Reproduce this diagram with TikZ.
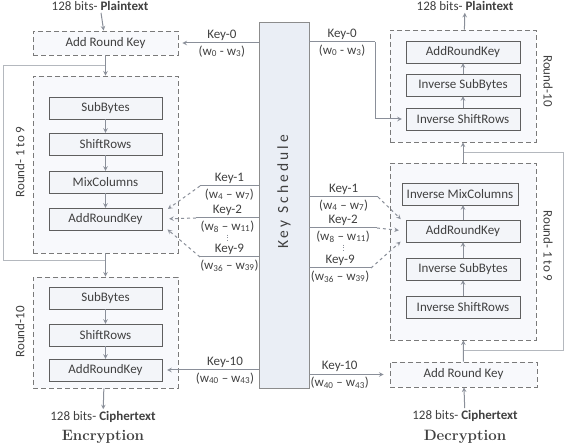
\documentclass[tikz,border=0pt]{standalone}
\usepackage{fontspec}
\setsansfont{Carlito}
\newfontfamily\kstitle[LetterSpace=20]{Carlito}
\usetikzlibrary{positioning, calc}

\definecolor{txtgray}{HTML}{404040}
\definecolor{boxgray}{HTML}{5F5F5F}
\definecolor{opfill}{HTML}{F3F5F9}
\definecolor{dashgray}{HTML}{7A7A7A}
\definecolor{roundfill}{HTML}{F8F9FC}
\definecolor{ksfill}{HTML}{EAEEF5}
\definecolor{ksborder}{HTML}{8C8C8C}
\definecolor{arrowgray}{HTML}{8A8F99}
\definecolor{loopgray}{HTML}{B4B8BE}

\begin{document}
\begin{tikzpicture}[x=1pt, y=-1pt]
	\tikzstyle{txt}=[font=\sffamily\fontsize{13}{15}\selectfont, text=txtgray, inner sep=2pt];
	\tikzstyle{opbox}=[txt, draw=boxgray, fill=opfill, minimum width=113pt, minimum height=22pt, inner sep=0pt];
	\tikzstyle{roundbox}=[txt, draw=dashgray, fill=roundfill, line width=0.9pt, dash pattern=on 5pt off 3pt, inner sep=0pt, minimum width=145pt];
	\tikzstyle{flow}=[->, >=stealth, draw=arrowgray, line width=1pt];
	\tikzstyle{keyline}=[draw=arrowgray, line width=1pt];
	\tikzstyle{keydash}=[->, >=stealth, draw=arrowgray, line width=1pt, dashed, shorten >=7pt];
	\tikzstyle{loopline}=[draw=loopgray, line width=1pt];
	\useasboundingbox (0,0) rectangle (566,446);

   % encryption side
   \node[txt] (ptL) at (100,6) {128 bits- \textbf{Plaintext}};
   \node[roundbox, minimum height=24pt] (arkL) at (105.5,43) {Add Round Key};
   \node[roundbox, minimum height=177pt] (r19L) at (105.5,164.5) {};
   \node[opbox] (sbL1) at (105.5,108) {SubBytes};
   \node[opbox] (srL1) at (105.5,144) {ShiftRows};
   \node[opbox] (mcL1) at (105.5,182) {MixColumns};
   \node[opbox] (arkL1) at (105.5,219) {AddRoundKey};
   \node[roundbox, minimum height=111pt] (r10L) at (105.5,332.5) {};
   \node[opbox] (sbL2) at (105.5,298) {SubBytes};
   \node[opbox] (srL2) at (105.5,335) {ShiftRows};
   \node[opbox] (arkL2) at (105.5,370) {AddRoundKey};
   \node[txt] (ctL) at (103,417) {128 bits- \textbf{Ciphertext}};
   \node[font=\rmfamily\bfseries\fontsize{15}{17}\selectfont, text=txtgray] (encL) at (103,437) {Encryption};
   \node[txt, rotate=90] (rn19L) at (20,162) {Round- 1 to 9};
   \node[txt, rotate=90] (rn10L) at (20,332) {Round-10};

   % key schedule
   \node[draw=ksborder, fill=ksfill, minimum width=50pt, minimum height=366pt] (ks) at (284,205) {};
   \node[rotate=90, font=\kstitle\fontsize{15.5}{18}\selectfont, text=txtgray] (kst) at (284,192) {Key Schedule};

   % decryption side
   \node[txt] (ptR) at (465,6) {128 bits- \textbf{Plaintext}};
   \node[roundbox, minimum width=146pt, minimum height=112pt] (r10R) at (463,86) {};
   \node[opbox, minimum width=114pt] (arkR1) at (463,52) {AddRoundKey};
   \node[opbox, minimum width=114pt] (isbR1) at (463,85) {Inverse SubBytes};
   \node[opbox, minimum width=114pt] (isrR1) at (463,119) {Inverse ShiftRows};
   \node[roundbox, minimum width=146pt, minimum height=177pt] (r19R) at (463,251.5) {};
   \node[opbox, minimum width=116pt] (imcR) at (460,194) {Inverse MixColumns};
   \node[opbox, minimum width=114pt] (arkR2) at (463,231) {AddRoundKey};
   \node[opbox, minimum width=114pt] (isbR2) at (463,269) {Inverse SubBytes};
   \node[opbox, minimum width=114pt] (isrR2) at (463,307) {Inverse ShiftRows};
   \node[roundbox, minimum width=147pt, minimum height=25pt] (arkR) at (463.5,374.5) {Add Round Key};
   \node[txt] (ctR) at (465,416) {128 bits- \textbf{Ciphertext}};
   \node[font=\rmfamily\bfseries\fontsize{15}{17}\selectfont, text=txtgray] (decR) at (465,437) {Decryption};
   \node[txt, rotate=-90] (rn10R) at (548,81) {Round-10};
   \node[txt, rotate=-90] (rn19R) at (548,246) {Round- 1 to 9};

   % loops back into the rounds
   \coordinate (lpL1) at (3,261);
   \coordinate (lpL2) at (3,66);
   \coordinate (lpR1) at (563,153);
   \coordinate (lpR2) at (563,351);
   \draw[loopline] (lpL1 -| r19L) -- (lpL1) -- (lpL2) -- (lpL2 -| arkL);
   \draw[loopline] (lpR1 -| r19R) -- (lpR1) -- (lpR2) -- (lpR2 -| arkR);

   % data flow
   \draw (ptL) edge[flow] (arkL);
   \draw (arkL) edge[flow] (r19L);
   \draw (sbL1) edge[flow] (srL1);
   \draw (srL1) edge[flow] (mcL1);
   \draw (mcL1) edge[flow] (arkL1);
   \draw (r19L) edge[flow] (r10L);
   \draw (sbL2) edge[flow] (srL2);
   \draw (srL2) edge[flow] (arkL2);
   \draw (r10L) edge[flow] (ctL);

   \draw (ctR) edge[flow] (arkR);
   \draw (arkR) edge[flow] (r19R);
   \draw (isrR2) edge[flow] (isbR2);
   \draw (isbR2) edge[flow] (arkR2);
   \draw (arkR2) edge[flow] (imcR.south -| arkR2);
   \draw (r19R) edge[flow] (r10R);
   \draw (isrR1) edge[flow] (isbR1);
   \draw (isbR1) edge[flow] (arkR1);
   \draw (r10R) edge[flow] (ptR);

   % round keys, encryption
   \draw[flow, shorten >=4pt] (ks.west |- arkL) -- node[txt, above, pos=0.46] (k0La) {Key-0} node[txt, below, pos=0.46] (k0Lb) {(w\textsubscript{0} - w\textsubscript{3})} (arkL.east);
   \coordinate (k1L) at (200,186);
   \coordinate (k2L) at (196,218);
   \coordinate (k9L) at (200,257);
   \draw[keyline] (ks.west |- k1L) -- node[txt, above] (k1La) {Key-1} node[txt, below] (k1Lb) {(w\textsubscript{4} -- w\textsubscript{7})} (k1L);
   \draw[keyline] (ks.west |- k2L) -- node[txt, above] (k2La) {Key-2} node[txt, below] (k2Lb) {(w\textsubscript{8} -- w\textsubscript{11})} (k2L);
   \draw[keyline] (ks.west |- k9L) -- node[txt, above] (k9La) {Key-9} node[txt, below] (k9Lb) {(w\textsubscript{36} -- w\textsubscript{39})} (k9L);
   \draw[keydash] (k1L) -- (arkL1.6);
   \draw[keydash] (k2L) -- (arkL1.east);
   \draw[keydash] (k9L) -- (arkL1.-6);
   \draw[draw=arrowgray, dotted, thick] (k2Lb.south) -- (k2Lb.south |- k9La.north);
   \draw[flow, shorten >=5pt] (ks.west |- arkL2) -- node[txt, above, pos=0.35] (k10La) {Key-10} node[txt, below, pos=0.35] (k10Lb) {(w\textsubscript{40} -- w\textsubscript{43})} (arkL2.east);

   % round keys, decryption
   \coordinate (k0R) at (375,42);
   \draw[keyline] (ks.east |- k0R) -- node[txt, above] (k0Ra) {Key-0} node[txt, below] (k0Rb) {(w\textsubscript{0} - w\textsubscript{3})} (k0R);
   \draw[flow, shorten >=4pt] (k0R) |- (isrR1.west);
   \coordinate (k1R) at (378,197);
   \coordinate (k2R) at (377,228);
   \coordinate (k9R) at (371,268);
   \draw[keyline] (ks.east |- k1R) -- node[txt, above] (k1Ra) {Key-1} node[txt, below] (k1Rb) {(w\textsubscript{4} -- w\textsubscript{7})} (k1R);
   \draw[keyline] (ks.east |- k2R) -- node[txt, above] (k2Ra) {Key-2} node[txt, below] (k2Rb) {(w\textsubscript{8} -- w\textsubscript{11})} (k2R);
   \draw[keyline] (ks.east |- k9R) -- node[txt, above] (k9Ra) {Key-9} node[txt, below] (k9Rb) {(w\textsubscript{36} -- w\textsubscript{39})} (k9R);
   \draw[keydash] (k1R) -- (arkR2.173);
   \draw[keydash] (k2R) -- (arkR2.west);
   \draw[keydash] (k9R) -- (arkR2.186);
   \draw[draw=arrowgray, dotted, thick] (k2Rb.south) -- (k2Rb.south |- k9Ra.north);
   \draw[flow, shorten >=6pt] (ks.east |- arkR) -- node[txt, above, pos=0.38] (k10Ra) {Key-10} node[txt, below, pos=0.38] (k10Rb) {(w\textsubscript{40} -- w\textsubscript{43})} (arkR.west);

\end{tikzpicture}
\end{document}
